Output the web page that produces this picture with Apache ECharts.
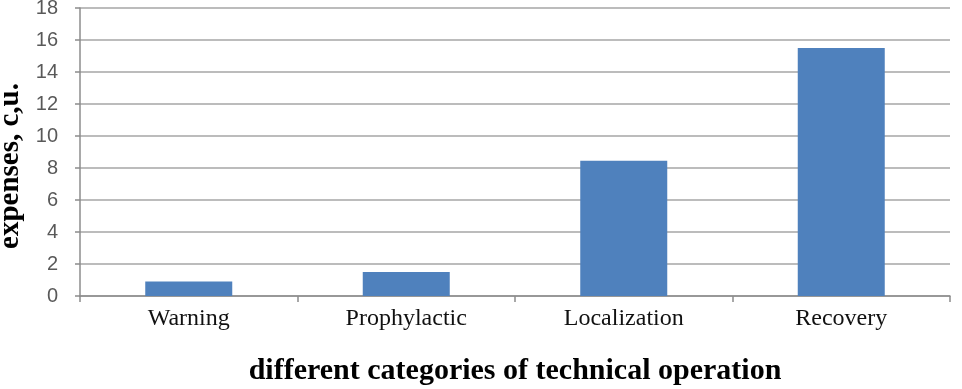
<!DOCTYPE html>
<html>
<head>
<meta charset="utf-8">
<script src="https://cdn.jsdelivr.net/npm/echarts@6/dist/echarts.min.js"></script>
<style>html,body{margin:0;padding:0;background:#fff}#c{width:962px;height:389px}</style>
</head>
<body>
<div id="c"></div>
<script>
var categories = ['Warning', 'Prophylactic', 'Localization', 'Recovery'];
var expenses = [0.9, 1.5, 8.45, 15.5];
var yTicks = [0, 2, 4, 6, 8, 10, 12, 14, 16, 18];

var chart = echarts.init(document.getElementById('c'));
chart.setOption({
  animation: false,
  grid: { left: 80, right: 12, top: 8, bottom: 93, outerBoundsMode: 'none', containLabel: false },
  xAxis: {
    type: 'category',
    data: categories,
    name: 'different categories of technical operation',
    nameLocation: 'middle',
    nameGap: 60,
    nameTextStyle: { fontFamily: 'Liberation Serif', fontWeight: 'bold', fontSize: 30, color: '#000' },
    axisLine: { lineStyle: { color: '#8c8c8c', width: 1.5 } },
    axisTick: { show: true, length: 6, lineStyle: { color: '#8c8c8c', width: 1.5 } },
    axisLabel: { fontFamily: 'Liberation Serif', fontSize: 24, color: '#111', margin: 11 }
  },
  yAxis: {
    type: 'value',
    min: yTicks[0],
    max: yTicks[yTicks.length - 1],
    interval: 2,
    name: 'expenses, c,u.',
    nameLocation: 'middle',
    nameGap: 54,
    nameTextStyle: { fontFamily: 'Liberation Serif', fontWeight: 'bold', fontSize: 29, color: '#000', padding: [0, 28, 0, 0] },
    axisLine: { show: true, lineStyle: { color: '#8c8c8c', width: 1.5 } },
    axisTick: { show: true, length: 5, lineStyle: { color: '#8c8c8c', width: 1.5 } },
    axisLabel: { fontFamily: 'Liberation Sans', fontSize: 20, color: '#595959', margin: 22 },
    splitLine: { lineStyle: { color: '#a6a6a6', width: 1.5 } }
  },
  series: [{
    type: 'bar',
    data: expenses,
    barWidth: '40%',
    itemStyle: { color: '#4f81bd' }
  }]
});
</script>
</body>
</html>
